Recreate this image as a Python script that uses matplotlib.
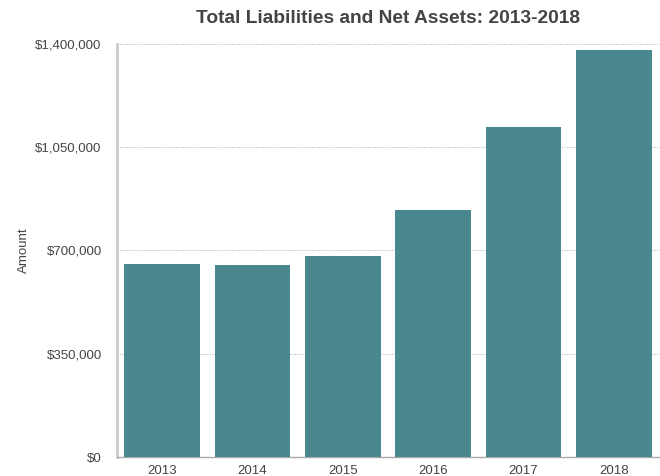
import matplotlib
matplotlib.use("Agg")
import matplotlib.pyplot as plt
from matplotlib.ticker import FuncFormatter

plt.rcParams['font.family'] = ['Liberation Sans', 'DejaVu Sans']

# data
years = ['2013', '2014', '2015', '2016', '2017', '2018']
amounts = [654000, 651000, 681000, 837000, 1119000, 1380000]
y_ticks = [0, 350000, 700000, 1050000, 1400000]

BAR_COLOR = '#4A8890'
TEXT_COLOR = '#444444'

fig = plt.figure(figsize=(6.6, 4.76), dpi=100, facecolor='white')
ax = fig.add_axes([0.1773, 0.0399, 0.8212, 0.8677])

ax.bar(range(len(years)), amounts, width=0.84, color=BAR_COLOR, zorder=3)

ax.set_xlim(-0.5, len(years) - 0.5)
ax.set_ylim(0, 1400000)
ax.set_yticks(y_ticks)
ax.yaxis.set_major_formatter(FuncFormatter(lambda v, p: f"${v:,.0f}"))
ax.set_xticks(range(len(years)))
ax.set_xticklabels(years)

ax.grid(axis='y', linestyle=(0, (1, 1.5)), color='#b0b0b0', linewidth=0.7, zorder=0)
ax.tick_params(axis='both', length=0, labelsize=9.5, colors=TEXT_COLOR)
ax.tick_params(axis='y', pad=11)
ax.tick_params(axis='x', pad=6)

for side in ['top', 'right']:
    ax.spines[side].set_visible(False)
ax.spines['left'].set_color('#cccccc')
ax.spines['left'].set_linewidth(2)
ax.spines['bottom'].set_color('#aaaaaa')
ax.spines['bottom'].set_linewidth(1)

ax.set_ylabel('Amount', fontsize=9.5, color=TEXT_COLOR)
ax.yaxis.set_label_coords(-0.16, 0.5)

fig.text(0.588, 0.962, 'Total Liabilities and Net Assets: 2013-2018',
         ha='center', va='center', fontsize=13.8, fontweight='bold', color=TEXT_COLOR)

fig.savefig('out.png', dpi=100)
